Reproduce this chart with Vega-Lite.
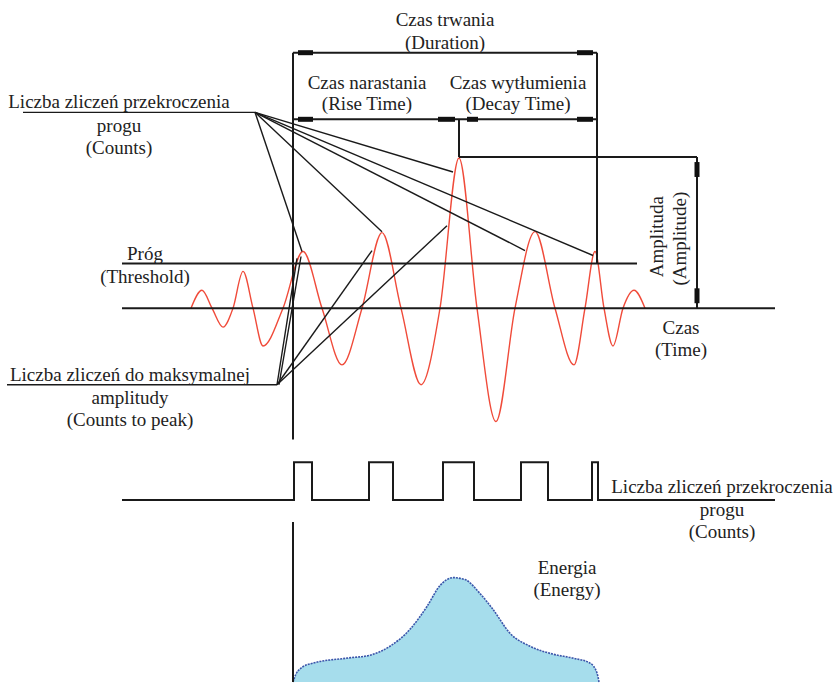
{
  "$schema": "https://vega.github.io/schema/vega-lite/v6.json",
  "width": 834,
  "height": 686,
  "padding": 0,
  "autosize": {"type": "fit", "contains": "padding"},
  "background": "white",
  "config": {"view": {"stroke": null}},
  "datasets": {
    "frame": [
      {"part": "time axis", "x": 122, "y": 310, "x2": 775, "y2": 310},
      {"part": "threshold", "x": 122, "y": 265, "x2": 637, "y2": 265},
      {"part": "start", "x": 293, "y": 53, "x2": 293, "y2": 442},
      {"part": "start lower", "x": 293, "y": 525, "x2": 293, "y2": 686},
      {"part": "end", "x": 597, "y": 53, "x2": 597, "y2": 265},
      {"part": "duration", "x": 293, "y": 53, "x2": 597, "y2": 53},
      {"part": "rise decay", "x": 293, "y": 120, "x2": 597, "y2": 120},
      {"part": "peak time", "x": 459, "y": 120, "x2": 459, "y2": 158},
      {"part": "peak level", "x": 459, "y": 158, "x2": 697, "y2": 158},
      {"part": "amplitude", "x": 697, "y": 158, "x2": 697, "y2": 310}
    ],
    "fan": [
      {"part": "counts label", "x": 23, "y": 113, "x2": 255, "y2": 113},
      {"part": "count 1", "x": 255, "y": 113, "x2": 302, "y2": 253},
      {"part": "count 2", "x": 255, "y": 113, "x2": 382, "y2": 233},
      {"part": "count 3", "x": 255, "y": 113, "x2": 453, "y2": 173},
      {"part": "count 4", "x": 255, "y": 113, "x2": 525, "y2": 252},
      {"part": "count 5", "x": 255, "y": 113, "x2": 593, "y2": 257},
      {"part": "peak label", "x": 7, "y": 387, "x2": 277, "y2": 387},
      {"part": "to peak 1a", "x": 277, "y": 387, "x2": 297, "y2": 260},
      {"part": "to peak 1b", "x": 279, "y": 387, "x2": 301, "y2": 258},
      {"part": "to peak 2", "x": 277, "y": 387, "x2": 372, "y2": 252},
      {"part": "to peak 3", "x": 277, "y": 387, "x2": 447, "y2": 227}
    ],
    "heads": [
      {"part": "duration start", "x": 298, "y": 53, "x2": 313, "y2": 53},
      {"part": "duration end", "x": 577, "y": 53, "x2": 593, "y2": 53},
      {"part": "rise start", "x": 298, "y": 120, "x2": 313, "y2": 120},
      {"part": "rise end", "x": 438, "y": 120, "x2": 455, "y2": 120},
      {"part": "decay start", "x": 467, "y": 120, "x2": 478, "y2": 120},
      {"part": "decay end", "x": 577, "y": 120, "x2": 593, "y2": 120},
      {"part": "amp top", "x": 697, "y": 163, "x2": 697, "y2": 178},
      {"part": "amp bottom", "x": 697, "y": 290, "x2": 697, "y2": 305}
    ],
    "wave": [
      {"x": 191, "y": 310}, {"x": 202, "y": 292}, {"x": 212, "y": 310},
      {"x": 223, "y": 329}, {"x": 233, "y": 310}, {"x": 243, "y": 273},
      {"x": 253, "y": 310}, {"x": 263, "y": 348}, {"x": 283, "y": 310},
      {"x": 303, "y": 253}, {"x": 322, "y": 310}, {"x": 342, "y": 367},
      {"x": 362, "y": 310}, {"x": 382, "y": 234}, {"x": 401, "y": 310},
      {"x": 421, "y": 387}, {"x": 440, "y": 310}, {"x": 459, "y": 159},
      {"x": 477, "y": 310}, {"x": 496, "y": 424}, {"x": 515, "y": 310},
      {"x": 535, "y": 233}, {"x": 555, "y": 310}, {"x": 574, "y": 367},
      {"x": 585, "y": 310}, {"x": 595, "y": 253}, {"x": 604, "y": 310},
      {"x": 613, "y": 348}, {"x": 623, "y": 310}, {"x": 634, "y": 292},
      {"x": 645, "y": 310}
    ],
    "pulse": [
      {"i": 0, "x": 122, "y": 503}, {"i": 1, "x": 294, "y": 503}, {"i": 2, "x": 294, "y": 465},
      {"i": 3, "x": 312, "y": 465}, {"i": 4, "x": 312, "y": 503}, {"i": 5, "x": 369, "y": 503},
      {"i": 6, "x": 369, "y": 465}, {"i": 7, "x": 393, "y": 465}, {"i": 8, "x": 393, "y": 503},
      {"i": 9, "x": 443, "y": 503}, {"i": 10, "x": 443, "y": 465}, {"i": 11, "x": 474, "y": 465},
      {"i": 12, "x": 474, "y": 503}, {"i": 13, "x": 521, "y": 503}, {"i": 14, "x": 521, "y": 465},
      {"i": 15, "x": 548, "y": 465}, {"i": 16, "x": 548, "y": 503}, {"i": 17, "x": 592, "y": 503},
      {"i": 18, "x": 592, "y": 465}, {"i": 19, "x": 598, "y": 465}, {"i": 20, "x": 598, "y": 503},
      {"i": 21, "x": 775, "y": 503}
    ],
    "energy": [
      {"x": 293, "y": 686}, {"x": 296, "y": 678}, {"x": 301, "y": 672}, {"x": 313, "y": 667},
      {"x": 347, "y": 662}, {"x": 370, "y": 659}, {"x": 390, "y": 650}, {"x": 410, "y": 633},
      {"x": 427, "y": 610}, {"x": 440, "y": 589}, {"x": 453, "y": 581}, {"x": 465, "y": 583},
      {"x": 480, "y": 597}, {"x": 493, "y": 613}, {"x": 510, "y": 637}, {"x": 530, "y": 650},
      {"x": 553, "y": 658}, {"x": 573, "y": 662}, {"x": 590, "y": 667}, {"x": 597, "y": 677},
      {"x": 599, "y": 686}
    ],
    "labels": [
      {"x": 445, "y": 20, "text": "Czas trwania"},
      {"x": 445, "y": 43, "text": "(Duration)"},
      {"x": 367, "y": 83, "text": "Czas narastania"},
      {"x": 367, "y": 105, "text": "(Rise Time)"},
      {"x": 518, "y": 83, "text": "Czas wytłumienia"},
      {"x": 518, "y": 105, "text": "(Decay Time)"},
      {"x": 119, "y": 103, "text": "Liczba zliczeń przekroczenia"},
      {"x": 119, "y": 127, "text": "progu"},
      {"x": 119, "y": 149, "text": "(Counts)"},
      {"x": 145, "y": 255, "text": "Próg"},
      {"x": 145, "y": 279, "text": "(Threshold)"},
      {"x": 681, "y": 330, "text": "Czas"},
      {"x": 681, "y": 352, "text": "(Time)"},
      {"x": 130, "y": 377, "text": "Liczba zliczeń do maksymalnej"},
      {"x": 130, "y": 400, "text": "amplitudy"},
      {"x": 130, "y": 422, "text": "(Counts to peak)"},
      {"x": 722, "y": 490, "text": "Liczba zliczeń przekroczenia"},
      {"x": 722, "y": 513, "text": "progu"},
      {"x": 722, "y": 535, "text": "(Counts)"},
      {"x": 567, "y": 571, "text": "Energia"},
      {"x": 567, "y": 593, "text": "(Energy)"}
    ],
    "vlabels": [
      {"x": 657, "y": 238, "text": "Amplituda"},
      {"x": 680, "y": 240, "text": "(Amplitude)"}
    ]
  },
  "encoding": {
    "x": {"field": "x", "type": "quantitative", "scale": {"domain": [0, 834], "nice": false, "zero": false}, "axis": null},
    "y": {"field": "y", "type": "quantitative", "scale": {"domain": [0, 686], "nice": false, "zero": false, "reverse": true}, "axis": null}
  },
  "layer": [
    {
      "data": {"name": "energy"},
      "mark": {"type": "area", "interpolate": "monotone", "color": "#a6ddec", "opacity": 1},
      "encoding": {"y2": {"datum": 686}}
    },
    {
      "data": {"name": "energy"},
      "mark": {"type": "line", "interpolate": "monotone", "color": "#3b55aa", "strokeWidth": 1.6, "strokeDash": [2, 1]}
    },
    {
      "data": {"name": "wave"},
      "mark": {"type": "line", "interpolate": "monotone", "color": "#f04b3a", "strokeWidth": 1.4}
    },
    {
      "data": {"name": "frame"},
      "mark": {"type": "rule", "color": "#1a1a1a", "strokeWidth": 2},
      "encoding": {"x2": {"field": "x2"}, "y2": {"field": "y2"}}
    },
    {
      "data": {"name": "fan"},
      "mark": {"type": "rule", "color": "#1a1a1a", "strokeWidth": 1.4},
      "encoding": {"x2": {"field": "x2"}, "y2": {"field": "y2"}}
    },
    {
      "data": {"name": "heads"},
      "mark": {"type": "rule", "color": "#111111", "strokeWidth": 5},
      "encoding": {"x2": {"field": "x2"}, "y2": {"field": "y2"}}
    },
    {
      "data": {"name": "pulse"},
      "mark": {"type": "line", "color": "#1a1a1a", "strokeWidth": 2},
      "encoding": {"order": {"field": "i", "type": "quantitative"}}
    },
    {
      "data": {"name": "labels"},
      "mark": {"type": "text", "font": "Liberation Serif", "fontSize": 19, "color": "#222222", "align": "center", "baseline": "middle"},
      "encoding": {"text": {"field": "text"}}
    },
    {
      "data": {"name": "vlabels"},
      "mark": {"type": "text", "font": "Liberation Serif", "fontSize": 19, "color": "#222222", "align": "center", "baseline": "middle", "angle": 270},
      "encoding": {"text": {"field": "text"}}
    }
  ]
}
